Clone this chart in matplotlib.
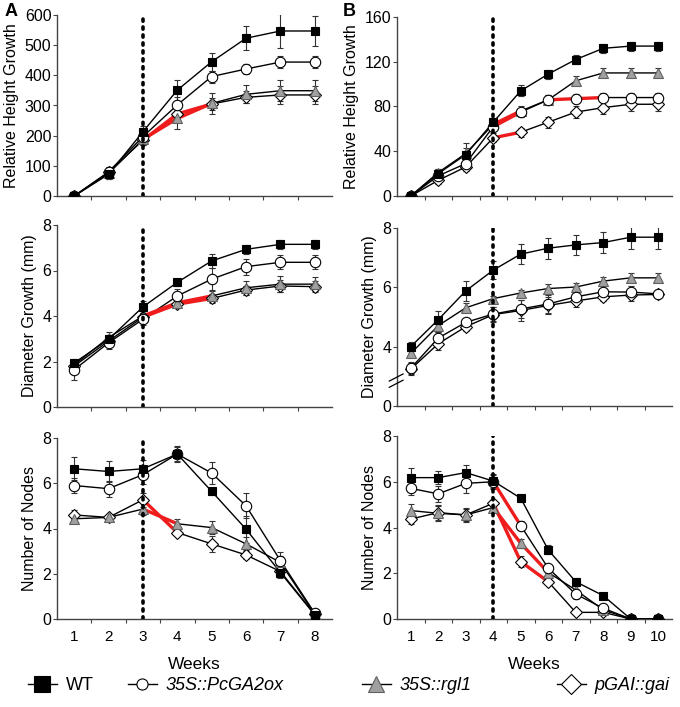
import numpy as np
import matplotlib
matplotlib.use("Agg")
import matplotlib.pyplot as plt
from matplotlib.lines import Line2D

plt.rcParams['font.family'] = ['Liberation Sans', 'DejaVu Sans']

# ---- dane ----
weeks_a = np.arange(1, 9)
weeks_b = np.arange(1, 11)

# panel A - wysokosc
a_h_wt = [0, 72, 213, 351, 445, 523, 547, 547]
a_h_ga2 = [0, 80, 197, 302, 396, 421, 444, 444]
a_h_rgl = [0, 75, 188, 257, 307, 337, 349, 349]
a_h_gai = [0, 78, 185, 272, 305, 327, 335, 335]
a_h_wt_err = [3, 15, 20, 35, 30, 40, 55, 50]
a_h_ga2_err = [3, 15, 15, 25, 20, 15, 20, 20]
a_h_rgl_err = [3, 20, 20, 35, 35, 30, 35, 35]
a_h_gai_err = [3, 10, 15, 20, 20, 20, 30, 30]

# panel A - srednica
a_d_wt = [1.94, 2.97, 4.40, 5.48, 6.42, 6.93, 7.15, 7.15]
a_d_ga2 = [1.64, 2.82, 3.86, 4.88, 5.62, 6.17, 6.36, 6.36]
a_d_rgl = [1.85, 3.05, 4.00, 4.58, 4.88, 5.24, 5.40, 5.40]
a_d_gai = [1.80, 2.90, 3.95, 4.52, 4.77, 5.14, 5.32, 5.29]
a_d_wt_err = [0.1, 0.2, 0.25, 0.15, 0.3, 0.2, 0.2, 0.2]
a_d_ga2_err = [0.45, 0.25, 0.25, 0.3, 0.5, 0.35, 0.3, 0.3]
a_d_rgl_err = [0.1, 0.25, 0.2, 0.15, 0.25, 0.3, 0.35, 0.3]
a_d_gai_err = [0.1, 0.2, 0.2, 0.15, 0.2, 0.2, 0.25, 0.25]

# panel A - wezly
a_n_wt = [6.64, 6.52, 6.64, 7.29, 5.64, 3.97, 2.05, 0.18]
a_n_ga2 = [5.90, 5.76, 6.38, 7.29, 6.45, 5.00, 2.58, 0.25]
a_n_rgl = [4.43, 4.49, 4.86, 4.21, 4.04, 3.32, 2.50, 0.20]
a_n_gai = [4.60, 4.49, 5.27, 3.82, 3.32, 2.83, 2.10, 0.20]
a_n_wt_err = [0.5, 0.45, 0.4, 0.3, 0.15, 0.6, 0.2, 0.1]
a_n_ga2_err = [0.35, 0.35, 0.4, 0.35, 0.5, 0.55, 0.4, 0.2]
a_n_rgl_err = [0.2, 0.1, 0.25, 0.2, 0.3, 0.3, 0.3, 0.1]
a_n_gai_err = [0.2, 0.1, 0.3, 0.1, 0.35, 0.2, 0.3, 0.1]

# panel B - wysokosc
b_h_wt = [0, 20, 37, 66, 94, 109, 122, 132, 134, 134]
b_h_ga2 = [0, 18, 29, 62, 75, 86, 87, 88, 88, 88]
b_h_rgl = [0, 21, 38, 64, 76, 86, 103, 110, 110, 110]
b_h_gai = [0, 14, 26, 52, 57, 66, 75, 79, 82, 82]
b_h_wt_err = [1, 4, 10, 4, 5, 4, 4, 4, 4, 4]
b_h_ga2_err = [1, 3, 4, 4, 4, 4, 4, 4, 4, 4]
b_h_rgl_err = [1, 3, 5, 4, 4, 4, 4, 4, 4, 4]
b_h_gai_err = [1, 3, 4, 4, 4, 5, 5, 6, 6, 6]

# panel B - srednica (os przerwana: 0, potem 4-8)
b_d_wt = [4.00, 4.91, 5.88, 6.58, 7.12, 7.32, 7.43, 7.51, 7.69, 7.69]
b_d_ga2 = [3.27, 4.29, 4.82, 5.10, 5.27, 5.44, 5.68, 5.85, 5.84, 5.78]
b_d_rgl = [3.77, 4.71, 5.31, 5.62, 5.81, 5.96, 6.01, 6.21, 6.32, 6.32]
b_d_gai = [3.24, 4.10, 4.67, 5.08, 5.22, 5.39, 5.54, 5.68, 5.74, 5.76]
b_d_wt_err = [0.15, 0.3, 0.35, 0.3, 0.35, 0.35, 0.35, 0.35, 0.4, 0.4]
b_d_ga2_err = [0.2, 0.2, 0.15, 0.25, 0.3, 0.3, 0.25, 0.2, 0.2, 0.1]
b_d_rgl_err = [0.1, 0.2, 0.15, 0.1, 0.1, 0.15, 0.15, 0.15, 0.15, 0.15]
b_d_gai_err = [0.2, 0.2, 0.15, 0.25, 0.35, 0.3, 0.2, 0.15, 0.2, 0.1]

# panel B - wezly
b_n_wt = [6.18, 6.18, 6.40, 6.03, 5.28, 3.02, 1.63, 1.02, 0, 0]
b_n_ga2 = [5.71, 5.47, 5.93, 6.00, 4.08, 2.22, 1.09, 0.47, 0, 0]
b_n_rgl = [4.74, 4.62, 4.55, 4.87, 3.31, 2.03, 1.27, 0.40, 0, 0]
b_n_gai = [4.37, 4.65, 4.55, 5.06, 2.51, 1.63, 0.29, 0.29, 0, 0]
b_n_wt_err = [0.4, 0.3, 0.35, 0.3, 0.15, 0.2, 0.15, 0.1, 0, 0]
b_n_ga2_err = [0.3, 0.35, 0.4, 0.3, 0.2, 0.15, 0.2, 0.15, 0, 0]
b_n_rgl_err = [0.3, 0.3, 0.3, 0.2, 0.2, 0.15, 0.2, 0.15, 0, 0]
b_n_gai_err = [0.2, 0.35, 0.25, 0.15, 0.25, 0.1, 0.05, 0.1, 0, 0]

# czerwone odcinki (seria, od tygodnia, do tygodnia)
a_h_red = [('rgl', 3, 5), ('gai', 3, 5)]
a_d_red = [('rgl', 3, 5), ('gai', 3, 5)]
a_n_red = [('rgl', 3, 4), ('gai', 3, 4)]
b_h_red = [('ga2', 4, 5), ('rgl', 4, 5), ('gai', 4, 5), ('ga2', 6, 8)]
b_d_red = []
b_n_red = [('ga2', 4, 5), ('rgl', 4, 6), ('gai', 4, 6)]

labels = ['WT', '35S::PcGA2ox', '35S::rgl1', 'pGAI::gai']

# ---- styl ----
style = {
    'wt': dict(marker='s', mfc='black', mec='black', ms=6),
    'ga2': dict(marker='o', mfc='white', mec='black', ms=7.5),
    'rgl': dict(marker='^', mfc='#a0a0a0', mec='#606060', ms=7.5),
    'gai': dict(marker='D', mfc='white', mec='black', ms=6),
}
order = ['gai', 'rgl', 'ga2', 'wt']
spine_col = '#444444'


def panel(ax, x, series, errs, red, ylim, yticks, ytl, ylabel, split, bottom):
    for key in order:
        y = np.array(series[key])
        ax.errorbar(x, y, yerr=errs[key], fmt='none', ecolor='#333333',
                    elinewidth=0.8, capsize=2, capthick=0.8, zorder=2)
        ax.plot(x, y, color='black', lw=1, zorder=3)
    for key, s, e in red:
        y = np.array(series[key])
        ax.plot(x[s - 1:e], y[s - 1:e], color='#ee1c1c', lw=2.4, zorder=4,
                solid_capstyle='round')
    for key in order:
        ax.plot(x, series[key], ls='none', zorder=5, mew=0.8, **style[key])
    ax.axvline(split, color='black', lw=2.6, ls=(0, (0.6, 1.6)),
               dash_capstyle='round', zorder=6)
    n = len(x)
    ax.set_xlim(0.5, n + 0.5)
    ax.set_ylim(*ylim)
    ax.set_xticks(np.arange(1.5, n + 0.5))
    ax.set_xticklabels([])
    ax.tick_params(axis='x', which='major', length=3, direction='out',
                   color=spine_col)
    if bottom:
        ax.set_xticks(x, minor=True)
        ax.set_xticklabels([str(v) for v in x], minor=True, fontsize=11)
        ax.tick_params(axis='x', which='minor', length=0, pad=8)
        ax.set_xlabel('Weeks', fontsize=12.5, labelpad=9)
    ax.set_yticks(yticks)
    ax.set_yticklabels(ytl, fontsize=11.5)
    ax.tick_params(axis='y', length=3, direction='out', pad=1, color=spine_col)
    ax.set_ylabel(ylabel, fontsize=11.5, labelpad=4)
    for sp in ['top', 'right']:
        ax.spines[sp].set_visible(False)
    for sp in ['left', 'bottom']:
        ax.spines[sp].set_color(spine_col)
        ax.spines[sp].set_linewidth(1.0)


fig = plt.figure(figsize=(6.8, 7.07), dpi=100)
W, H = 680.0, 707.0


def box(l, r, t, b):
    return [l / W, 1 - b / H, (r - l) / W, (b - t) / H]


# panel A
ax = fig.add_axes(box(57, 332, 15, 196))
panel(ax, weeks_a,
      dict(wt=a_h_wt, ga2=a_h_ga2, rgl=a_h_rgl, gai=a_h_gai),
      dict(wt=a_h_wt_err, ga2=a_h_ga2_err, rgl=a_h_rgl_err, gai=a_h_gai_err),
      a_h_red, (0, 600), range(0, 601, 100), [str(v) for v in range(0, 601, 100)],
      'Relative Height Growth', 3, False)

ax = fig.add_axes(box(57, 332, 225, 407))
panel(ax, weeks_a,
      dict(wt=a_d_wt, ga2=a_d_ga2, rgl=a_d_rgl, gai=a_d_gai),
      dict(wt=a_d_wt_err, ga2=a_d_ga2_err, rgl=a_d_rgl_err, gai=a_d_gai_err),
      a_d_red, (0, 8), [0, 2, 4, 6, 8], ['0', '2', '4', '6', '8'],
      'Diameter Growth (mm)', 3, False)

ax = fig.add_axes(box(57, 332, 438, 619))
panel(ax, weeks_a,
      dict(wt=a_n_wt, ga2=a_n_ga2, rgl=a_n_rgl, gai=a_n_gai),
      dict(wt=a_n_wt_err, ga2=a_n_ga2_err, rgl=a_n_rgl_err, gai=a_n_gai_err),
      a_n_red, (0, 8), [0, 2, 4, 6, 8], ['0', '2', '4', '6', '8'],
      'Number of Nodes', 3, True)

# panel B
ax = fig.add_axes(box(397, 672, 17, 196))
panel(ax, weeks_b,
      dict(wt=b_h_wt, ga2=b_h_ga2, rgl=b_h_rgl, gai=b_h_gai),
      dict(wt=b_h_wt_err, ga2=b_h_ga2_err, rgl=b_h_rgl_err, gai=b_h_gai_err),
      b_h_red, (0, 160), [0, 40, 80, 120, 160], ['0', '40', '80', '120', '160'],
      'Relative Height Growth', 4, False)

ax = fig.add_axes(box(397, 672, 228, 406))
shift = 2.0  # przerwana os: 0 na dole odpowiada 2 mm
panel(ax, weeks_b,
      dict(wt=np.array(b_d_wt) - shift, ga2=np.array(b_d_ga2) - shift,
           rgl=np.array(b_d_rgl) - shift, gai=np.array(b_d_gai) - shift),
      dict(wt=b_d_wt_err, ga2=b_d_ga2_err, rgl=b_d_rgl_err, gai=b_d_gai_err),
      b_d_red, (0, 6), [0, 2, 4, 6], ['0', '4', '6', '8'],
      'Diameter Growth (mm)', 4, False)
for dy in (0.0, 0.035):
    ax.plot([-0.028, 0.022], [0.105 + dy, 0.145 + dy], transform=ax.transAxes,
            color='black', lw=0.9, clip_on=False, zorder=7)

ax = fig.add_axes(box(397, 672, 436, 619))
panel(ax, weeks_b,
      dict(wt=b_n_wt, ga2=b_n_ga2, rgl=b_n_rgl, gai=b_n_gai),
      dict(wt=b_n_wt_err, ga2=b_n_ga2_err, rgl=b_n_rgl_err, gai=b_n_gai_err),
      b_n_red, (0, 8), [0, 2, 4, 6, 8], ['0', '2', '4', '6', '8'],
      'Number of Nodes', 4, True)

fig.text(5 / W, 1 - 12 / H, 'A', fontsize=13, fontweight='bold', va='center')
fig.text(343 / W, 1 - 12 / H, 'B', fontsize=13, fontweight='bold', va='center')

# legenda - kazdy wpis osobno
leg_x = [28, 128, 362, 557]
for key, lab, lx, ms in zip(['wt', 'ga2', 'rgl', 'gai'], labels, leg_x,
                            [11, 8, 12, 10]):
    st = dict(style[key])
    st['ms'] = ms
    h = Line2D([], [], color='black', lw=1, mew=0.8, **st)
    leg = fig.legend([h], [lab], loc='center left',
                     bbox_to_anchor=(lx / W, 1 - 686 / H), frameon=False,
                     fontsize=13, handlelength=1.6, handletextpad=0.5,
                     borderpad=0, borderaxespad=0)
    if key != 'wt':
        leg.get_texts()[0].set_fontstyle('italic')

fig.savefig('out.png', dpi=100)
